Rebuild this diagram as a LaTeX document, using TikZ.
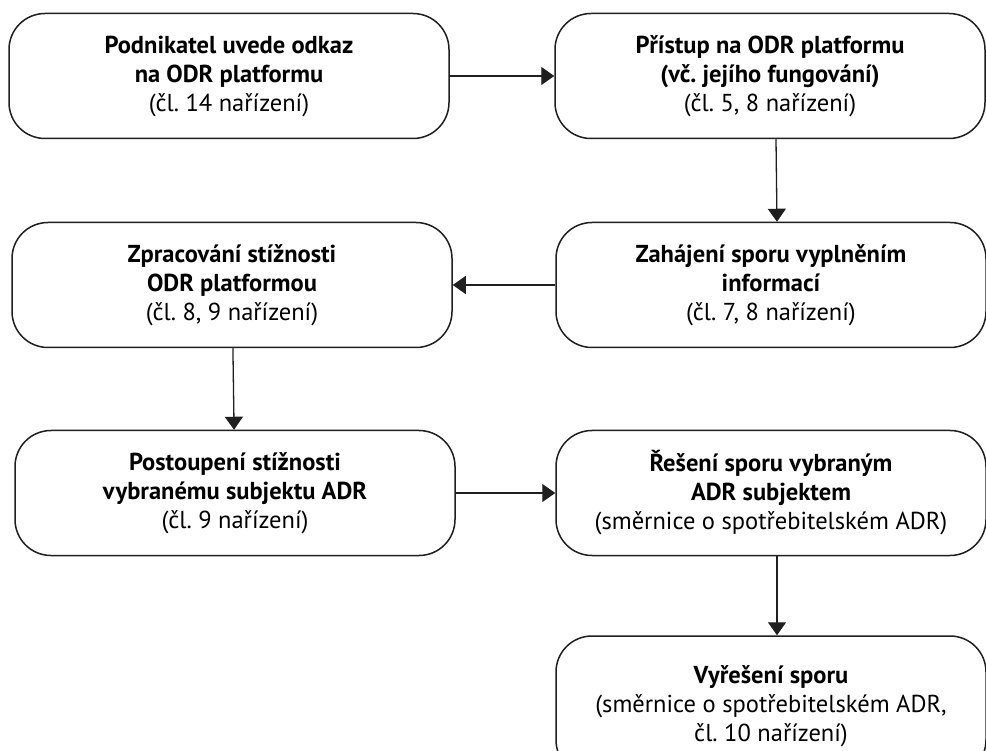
\documentclass[tikz,border=0pt]{standalone}
\usepackage{fontspec}
\setmainfont{PT Sans}
\usetikzlibrary{arrows.meta}
\frenchspacing
\begin{document}
\begin{tikzpicture}[x=1pt,y=-1pt,
  box/.style={draw=black!88, line width=1.5pt, rounded corners=36pt,
    minimum width=440pt, minimum height=125pt, align=center,
    font=\fontsize{24.5}{29}\selectfont, inner sep=0pt},
  rbox/.style={box, minimum width=430pt},
  conn/.style={draw=black!88, line width=1.3pt, -{Triangle[length=13pt,width=18pt]}}]
\useasboundingbox (0,0) rectangle (986,751);
\clip (0,0) rectangle (986,751);
\fill[white] (0,0) rectangle (986,751);

\node[box] (b1) at (229,76) {\textbf{Podnikatel uvede odkaz}\\\textbf{na ODR platformu}\\(čl. 14 nařízení)};
\node[rbox] (b2) at (770,76) {\textbf{Přístup na ODR platformu}\\\textbf{(vč. jejího fungování)}\\(čl. 5, 8 nařízení)};
\node[rbox] (b3) at (771,285) {\textbf{Zahájení sporu vyplněním}\\\textbf{informací}\\(čl. 7, 8 nařízení)};
\node[box] (b4) at (232,285) {\textbf{Zpracování stížnosti}\\\textbf{ODR platformou}\\(čl. 8, 9 nařízení)};
\node[box] (b5) at (235,493) {\textbf{Postoupení stížnosti}\\\textbf{vybranému subjektu ADR}\\(čl. 9 nařízení)};
\node[rbox] (b6) at (771,493) {\textbf{Řešení sporu vybraným}\\\textbf{ADR subjektem}\\(směrnice o spotřebitelském ADR)};
\node[rbox, minimum height=140pt] (b7) at (771,706) {\textbf{Vyřešení sporu}\\(směrnice o spotřebitelském ADR,\\čl. 10 nařízení)};

\draw[conn] (b1) -- (b2);
\draw[conn] ([xshift=6pt]b2.south) -- ([xshift=6pt]b3.north);
\draw[conn] (b3) -- (b4);
\draw[conn] (b4) -- (b5);
\draw[conn] (b5) -- (b6);
\draw[conn] ([xshift=6pt]b6.south) -- ([xshift=6pt]b7.north);
\end{tikzpicture}
\end{document}
